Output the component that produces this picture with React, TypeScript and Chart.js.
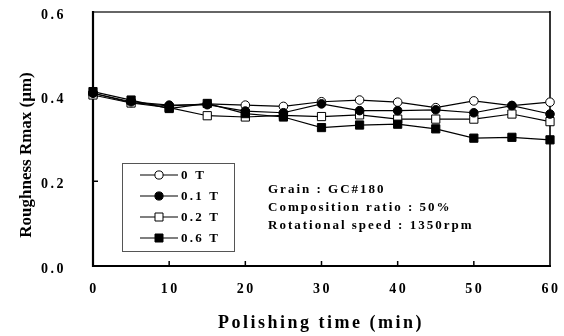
import React, { useEffect, useRef } from 'react';
import { Chart, registerables } from 'chart.js';

Chart.register(...registerables);

const FONT = '"Liberation Serif", "Times New Roman", serif';

const times = [0, 5, 10, 15, 20, 25, 30, 35, 40, 45, 50, 55, 60];
const seriesLabels = ['0 T', '0.1 T', '0.2 T', '0.6 T'];
const rmax0T = [0.408, 0.386, 0.378, 0.383, 0.380, 0.377, 0.388, 0.392, 0.387, 0.374, 0.390, 0.379, 0.387];
const rmax01T = [0.408, 0.388, 0.380, 0.381, 0.366, 0.362, 0.383, 0.367, 0.367, 0.369, 0.362, 0.379, 0.359];
const rmax02T = [0.404, 0.385, 0.374, 0.355, 0.352, 0.356, 0.353, 0.357, 0.347, 0.347, 0.347, 0.359, 0.341];
const rmax06T = [0.412, 0.392, 0.372, 0.384, 0.360, 0.352, 0.327, 0.333, 0.335, 0.324, 0.302, 0.304, 0.298];
const xTickValues = [0, 10, 20, 30, 40, 50, 60];
const yTickValues = [0, 0.2, 0.4, 0.6];
const xTitle = 'Polishing time (min)';
const yTitle = 'Roughness Rmax (\u03bcm)';
const annotationLines = ['Grain : GC#180', 'Composition ratio : 50%', 'Rotational speed : 1350rpm'];

const styles = [
  { pointStyle: 'circle', fill: '#ffffff', radius: 4.3, order: 3 },
  { pointStyle: 'circle', fill: '#000000', radius: 4.3, order: 1 },
  { pointStyle: 'rect', fill: '#ffffff', radius: 5.8, order: 2 },
  { pointStyle: 'rect', fill: '#000000', radius: 5.8, order: 0 },
];
const seriesValues = [rmax0T, rmax01T, rmax02T, rmax06T];

function drawMarker(ctx: CanvasRenderingContext2D, style: string, fill: string, x: number, y: number) {
  ctx.save();
  ctx.fillStyle = fill;
  ctx.strokeStyle = '#000';
  ctx.lineWidth = 1;
  ctx.beginPath();
  if (style === 'circle') {
    ctx.arc(x, y, 4.1, 0, Math.PI * 2);
  } else {
    ctx.rect(x - 4, y - 4, 8, 8);
  }
  ctx.fill();
  ctx.stroke();
  ctx.restore();
}

const decorPlugin = {
  id: 'decor',
  beforeDraw(chart: any) {
    chart.ctx.letterSpacing = '2.5px';
  },
  beforeDatasetsDraw(chart: any) {
    const { ctx, chartArea: a, scales } = chart;
    ctx.save();
    ctx.letterSpacing = '0px';
    ctx.lineCap = 'butt';
    ctx.strokeStyle = '#000';
    ctx.lineWidth = 1.5;
    ctx.beginPath();
    xTickValues.forEach((v) => {
      if (v <= 0 || v >= 60) return;
      const px = scales.x.getPixelForValue(v);
      ctx.moveTo(px, a.bottom);
      ctx.lineTo(px, a.bottom - 5);
    });
    yTickValues.forEach((v) => {
      if (v <= 0 || v >= 0.6) return;
      const py = scales.y.getPixelForValue(v);
      ctx.moveTo(a.left, py);
      ctx.lineTo(a.left + 5, py);
    });
    ctx.stroke();
    ctx.strokeStyle = '#666';
    ctx.lineWidth = 2;
    ctx.beginPath();
    ctx.moveTo(a.left, a.top);
    ctx.lineTo(a.right, a.top);
    ctx.stroke();
    ctx.strokeStyle = '#000';
    ctx.lineWidth = 1.6;
    ctx.beginPath();
    ctx.moveTo(a.right, a.top - 1);
    ctx.lineTo(a.right, a.bottom);
    ctx.stroke();
    ctx.lineWidth = 2.2;
    ctx.beginPath();
    ctx.moveTo(a.left, a.top - 1);
    ctx.lineTo(a.left, a.bottom);
    ctx.lineTo(a.right + 1, a.bottom);
    ctx.stroke();
    ctx.restore();
  },
  afterDraw(chart: any) {
    const { ctx } = chart;
    ctx.save();
    ctx.fillStyle = '#000';
    ctx.letterSpacing = '0px';
    ctx.strokeStyle = '#555';
    ctx.lineWidth = 1;
    ctx.strokeRect(122.5, 163.5, 112, 88);
    const rows = [175, 196, 217, 238];
    chart.data.datasets.forEach((ds: any, i: number) => {
      const y = rows[i];
      ctx.strokeStyle = '#000';
      ctx.lineWidth = 1.2;
      ctx.beginPath();
      ctx.moveTo(140, y);
      ctx.lineTo(178, y);
      ctx.stroke();
      drawMarker(ctx, ds.pointStyle, ds.pointBackgroundColor, 159, y);
      ctx.save();
      ctx.letterSpacing = '2.2px';
      ctx.font = `bold 13px ${FONT}`;
      ctx.textAlign = 'left';
      ctx.textBaseline = 'middle';
      ctx.fillStyle = '#000';
      ctx.fillText(ds.label, 181, y + 0.5);
      ctx.restore();
    });
    ctx.letterSpacing = '2px';
    ctx.font = `bold 13px ${FONT}`;
    ctx.textAlign = 'left';
    ctx.textBaseline = 'alphabetic';
    annotationLines.forEach((line, i) => {
      ctx.fillText(line, 268, 193 + i * 18);
    });
    ctx.letterSpacing = '2.5px';
    ctx.font = `bold 18px ${FONT}`;
    ctx.textAlign = 'center';
    ctx.fillText(xTitle, 321, 328);
    ctx.letterSpacing = '0px';
    ctx.font = `bold 17px ${FONT}`;
    ctx.translate(31, 155);
    ctx.rotate(-Math.PI / 2);
    ctx.textAlign = 'center';
    ctx.textBaseline = 'alphabetic';
    ctx.fillText(yTitle, 0, 0);
    ctx.restore();
  },
};

export default function App() {
  const canvasRef = useRef<HTMLCanvasElement | null>(null);

  useEffect(() => {
    if (!canvasRef.current) return;
    const datasets = seriesLabels.map((label, i) => ({
      label,
      data: times.map((t, j) => ({ x: t, y: seriesValues[i][j] })),
      borderColor: '#000',
      borderWidth: 1.2,
      pointStyle: styles[i].pointStyle,
      pointRadius: styles[i].radius,
      pointBackgroundColor: styles[i].fill,
      pointBorderColor: '#000',
      pointBorderWidth: 1,
      tension: 0,
      fill: false,
      clip: false as any,
      order: styles[i].order,
    }));
    const chart = new Chart(canvasRef.current, {
      type: 'line',
      data: { datasets },
      plugins: [decorPlugin],
      options: {
        animation: false,
        responsive: true,
        maintainAspectRatio: false,
        layout: { autoPadding: false, padding: { top: 12, right: 14, left: 0, bottom: 0 } },
        plugins: { legend: { display: false }, tooltip: { enabled: false }, title: { display: false } },
        scales: {
          x: {
            type: 'linear',
            min: 0,
            max: 60,
            afterBuildTicks: (scale: any) => {
              scale.ticks = xTickValues.map((v) => ({ value: v }));
            },
            afterFit: (scale: any) => {
              scale.height = 70;
              scale.paddingLeft = 0;
              scale.paddingRight = 0;
            },
            grid: { display: false, drawTicks: false },
            border: { display: false },
            ticks: {
              padding: 15,
              labelOffset: 1,
              color: '#000',
              maxRotation: 0,
              font: { family: FONT, weight: 'bold', size: 14 },
              callback: (v: any) => String(v),
            },
          },
          y: {
            type: 'linear',
            min: 0,
            max: 0.6,
            afterBuildTicks: (scale: any) => {
              scale.ticks = yTickValues.map((v) => ({ value: v }));
            },
            afterFit: (scale: any) => {
              scale.width = 93;
              scale.paddingTop = 0;
              scale.paddingBottom = 0;
            },
            grid: { display: false, drawTicks: false },
            border: { display: false },
            ticks: {
              padding: 27,
              labelOffset: 3,
              color: '#000',
              font: { family: FONT, weight: 'bold', size: 14 },
              callback: (v: any) => Number(v).toFixed(1),
            },
          },
        },
      } as any,
    });
    return () => chart.destroy();
  }, []);

  return (
    <div style={{ position: 'fixed', left: 0, top: 0, width: 564, height: 336, background: '#fff' }}>
      <canvas ref={canvasRef} />
    </div>
  );
}
